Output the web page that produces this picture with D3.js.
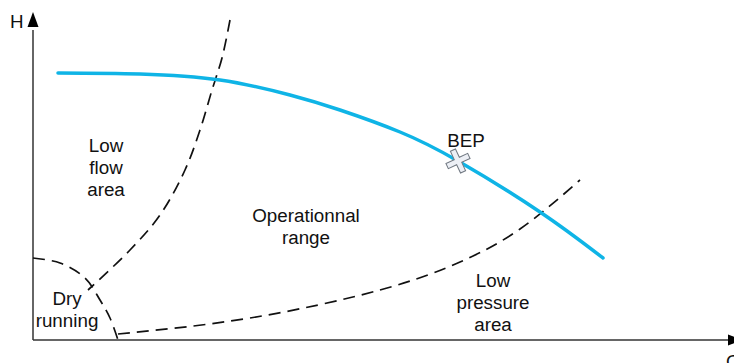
<!DOCTYPE html>
<html>
<head>
<meta charset="utf-8">
<script src="https://cdn.jsdelivr.net/npm/d3@7"></script>
<style>
    body { margin: 0; background: #fff; }
    svg { display: block; }
    .area-label { font-family: "Liberation Sans", Arial, sans-serif; font-size: 18.8px; fill: #111; }
    .dashed { fill: none; stroke: #111; stroke-width: 1.7; stroke-dasharray: 12 7; }
</style>
</head>
<body>
<svg id="chart" width="734" height="363"></svg>
<script>
// values are in chart units: Q to the right of the H axis, H above the Q axis
const pumpCurve = [[25, 267], [107, 266], [187, 260], [257, 245], [307, 230], [367, 208], [425, 179], [507, 128], [570, 82]];
const lowFlowBoundary = [[197, 320], [189, 282], [179, 250], [167, 210], [152, 170], [127, 125], [97, 90], [55, 50]];
const dryRunningBoundary = [[0, 82], [27, 77], [52, 62], [67, 40], [77, 22], [85, 0]];
const lowPressureBoundary = [[85, 6], [217, 22], [347, 50], [427, 78], [487, 111], [547, 160]];
const bepPoint = [425, 179];

const areaLabels = [
    { lines: ["Low", "flow", "area"], at: [73, 188] },
    { lines: ["Operationnal", "range"], at: [273, 118] },
    { lines: ["Low", "pressure", "area"], at: [460, 53] },
    { lines: ["Dry", "running"], at: [34, 35] },
    { lines: ["BEP"], at: [433, 193] },
];

const svg = d3.select("#chart");
const x = d3.scaleLinear().domain([0, 700]).range([33, 733]);
const y = d3.scaleLinear().domain([0, 328]).range([340, 12]);

const line = d3.line()
    .x((d) => x(d[0]))
    .y((d) => y(d[1]))
    .curve(d3.curveCatmullRom.alpha(0.5));

const smoothLine = d3.line()
    .x((d) => x(d[0]))
    .y((d) => y(d[1]))
    .curve(d3.curveNatural);

// axes with arrow heads
const axisColor = "#333";
svg.append("line")
    .attr("x1", x(0)).attr("y1", y(0))
    .attr("x2", x(0)).attr("y2", y(310))
    .attr("stroke", axisColor).attr("stroke-width", 1.5);
svg.append("line")
    .attr("x1", x(0)).attr("y1", y(0))
    .attr("x2", x(696)).attr("y2", y(0))
    .attr("stroke", axisColor).attr("stroke-width", 1.5);

svg.append("path")
    .attr("d", `M${x(0)},${y(328)} L${x(0) - 5.5},${y(313)} L${x(0) + 5.5},${y(313)} Z`)
    .attr("fill", "#000");
svg.append("path")
    .attr("d", `M${x(710)},${y(0)} L${x(695)},${y(0) - 5.5} L${x(695)},${y(0) + 5.5} Z`)
    .attr("fill", "#000");

svg.append("text").attr("class", "area-label")
    .attr("x", 10).attr("y", 28).text("H");
svg.append("text").attr("class", "area-label")
    .attr("x", 726).attr("y", 368).text("Q");

// boundaries
svg.append("path").attr("class", "dashed").attr("d", line(lowFlowBoundary));
svg.append("path").attr("class", "dashed").attr("d", line(dryRunningBoundary));
svg.append("path").attr("class", "dashed").attr("d", smoothLine(lowPressureBoundary));

// pump curve
svg.append("path")
    .attr("d", smoothLine(pumpCurve))
    .attr("fill", "none")
    .attr("stroke", "#0fb4e6")
    .attr("stroke-width", 3.5)
    .attr("stroke-linecap", "round");

// BEP marker
const arm = 12, half = 2.8;
const cross = `M${-half},${-arm} L${half},${-arm} L${half},${-half} L${arm},${-half} L${arm},${half} L${half},${half} L${half},${arm} L${-half},${arm} L${-half},${half} L${-arm},${half} L${-arm},${-half} L${-half},${-half} Z`;
svg.append("path")
    .attr("d", cross)
    .attr("transform", `translate(${x(bepPoint[0])},${y(bepPoint[1])}) rotate(-25)`)
    .attr("fill", "#eceff5")
    .attr("stroke", "#6f7780")
    .attr("stroke-width", 1);

// area labels
areaLabels.forEach((lab) => {
    const t = svg.append("text")
        .attr("class", "area-label")
        .attr("text-anchor", "middle");
    lab.lines.forEach((s, i) => {
        t.append("tspan")
            .attr("x", x(lab.at[0]))
            .attr("y", y(lab.at[1]) + i * 22)
            .text(s);
    });
});
</script>
</body>
</html>
